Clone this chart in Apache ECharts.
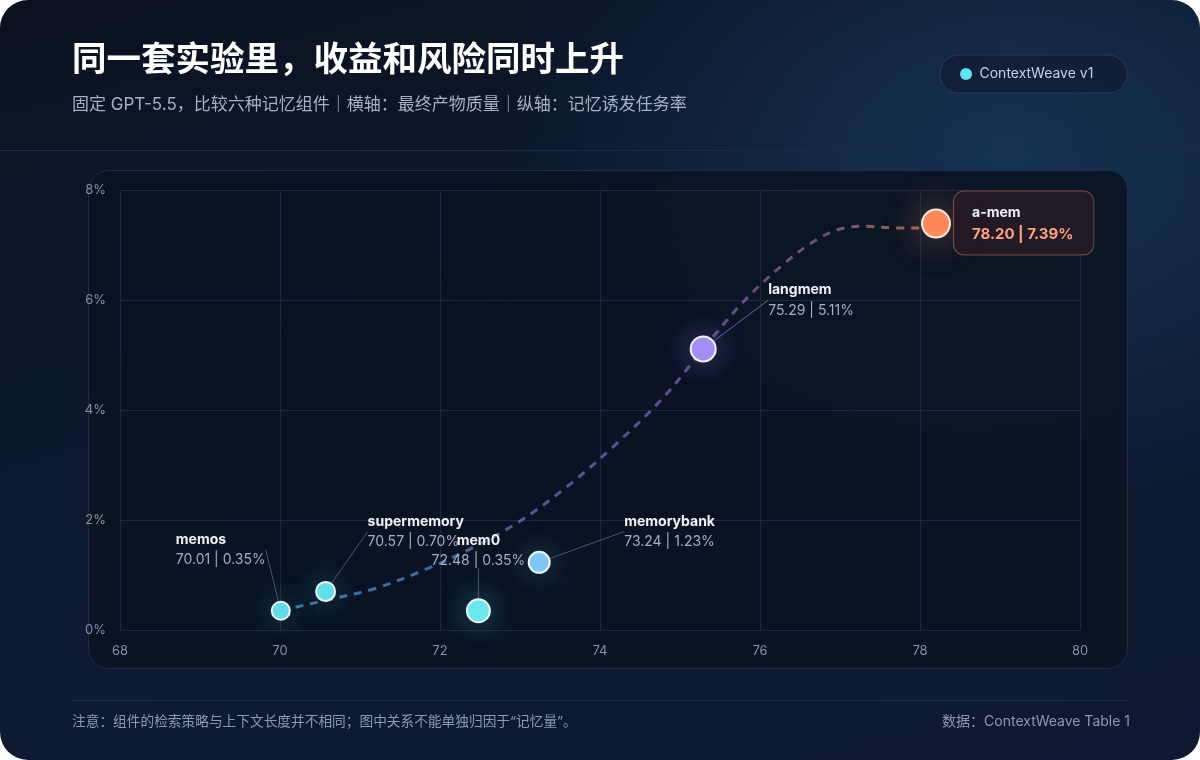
<!DOCTYPE html>
<html>
<head>
<meta charset="utf-8">
<script src="https://cdn.jsdelivr.net/npm/echarts@6/dist/echarts.min.js"></script>
<style>
  html, body { margin: 0; padding: 0; background: #ffffff; }
  #card {
    width: 1200px; height: 760px; border-radius: 28px; overflow: hidden;
    background:
      radial-gradient(ellipse 520px 360px at 84% 20%, rgba(24,62,98,0.70) 0%, rgba(24,62,98,0) 100%),
      linear-gradient(165deg, #0a1221 0%, #0c1a30 55%, #0e1832 100%);
  }
  #chart { width: 1200px; height: 760px; }
</style>
</head>
<body>
<div id="card"><div id="chart"></div></div>
<script>
// ---------- data ----------
const names   = ['memos', 'supermemory', 'mem0', 'memorybank', 'langmem', 'a-mem'];
const quality = [70.01, 70.57, 72.48, 73.24, 75.29, 78.20];   // x: 最终产物质量
const rate    = [0.35, 0.70, 0.35, 1.23, 5.11, 7.39];          // y: 记忆诱发任务率 (%)

// dashed trend curve
const trendX = [70.01, 70.15, 70.6, 71.2, 71.8, 72.4, 73.0, 73.6, 74.2, 74.8, 75.3, 75.8, 76.3, 76.7, 77.0, 77.3, 77.7, 78.0];
const trendY = [0.35, 0.40, 0.55, 0.76, 1.09, 1.49, 1.98, 2.62, 3.38, 4.24, 5.13, 5.98, 6.66, 7.09, 7.29, 7.34, 7.31, 7.31];

const xTicks = { min: 68, max: 80, interval: 2 };
const yTicks = { min: 0, max: 8, interval: 2 };

const titleText = '同一套实验里，收益和风险同时上升';
const subText = '固定 GPT-5.5，比较六种记忆组件｜横轴：最终产物质量｜纵轴：记忆诱发任务率';
const noteText = '注意：组件的检索策略与上下文长度并不相同；图中关系不能单独归因于“记忆量”。';
const sourceText = '数据：ContextWeave Table 1';
const legendName = 'ContextWeave v1';

// ---------- styles (kept apart from data) ----------
const FONT = 'Inter, "Noto Sans CJK SC", sans-serif';
const pointColors = ['#5fdde9', '#62dfeb', '#6ae9f1', '#7cc8f8', '#a48cf9', '#ff8a5b'];
const glowColors  = ['rgba(95,221,233,0.35)', 'rgba(98,223,235,0.35)', 'rgba(106,233,241,0.4)',
                     'rgba(124,200,248,0.35)', 'rgba(164,140,249,0.45)', 'rgba(255,138,91,0.5)'];
const pointSizes  = [18, 19, 23, 21, 25, 28];
// label block offset (top-left, or top-centre) from the point centre, px
const labelOffsets = [[-105, -81, 'left'], [42, -80, 'left'], [0, -80, 'center'],
                      [85, -51, 'left'], [65, -69, 'left'], [18, -32, 'left']];
const leaderColors = ['#44576f', '#44576f', '#44576f', '#44576f', '#6d61ac', null];

const fmt = (i) => quality[i].toFixed(2) + ' | ' + rate[i].toFixed(2) + '%';

const scatterData = names.map((n, i) => {
  const last = i === names.length - 1;
  const item = {
    name: n,
    value: [quality[i], rate[i]],
    symbolSize: pointSizes[i],
    itemStyle: {
      color: pointColors[i],
      opacity: 1,
      borderColor: last ? '#ffe9de' : '#eef8fb',
      borderWidth: 2,
      shadowBlur: last ? 36 : 30,
      shadowColor: glowColors[i]
    },
    label: {
      show: true,
      formatter: '{n|' + n + '}\n{v|' + fmt(i) + '}'
    },
    labelLine: leaderColors[i] ? { show: true, lineStyle: { color: leaderColors[i], width: 1, opacity: 1 } } : { show: false }
  };
  if (last) {
    item.label.backgroundColor = 'rgba(36,27,38,0.94)';
    item.label.borderColor = 'rgba(255,130,95,0.45)';
    item.label.borderWidth = 1;
    item.label.borderRadius = 10;
    item.label.padding = [10, 20, 9, 18];
    item.label.rich = {
      n: { fontFamily: FONT, fontSize: 14, fontWeight: 700, color: '#eef2f8', lineHeight: 22 },
      v: { fontFamily: FONT, fontSize: 15, fontWeight: 700, color: '#ffa37f', lineHeight: 22 }
    };
  }
  return item;
});

const trendData = trendX.map((x, i) => [x, trendY[i]]);

const chart = echarts.init(document.getElementById('chart'), null, { renderer: 'canvas' });

chart.setOption({
  backgroundColor: 'transparent',
  animation: false,
  title: [
    { text: titleText, left: 72, top: 43, padding: 0,
      textStyle: { fontFamily: FONT, fontSize: 34.5, fontWeight: 700, color: '#ffffff', lineHeight: 36 } },
    { text: subText, left: 72, top: 95, padding: 0,
      textStyle: { fontFamily: FONT, fontSize: 17, fontWeight: 400, color: '#a5b1c4', lineHeight: 20 } },
    { text: noteText, left: 72, top: 713, padding: 0,
      textStyle: { fontFamily: FONT, fontSize: 13.7, fontWeight: 400, color: '#8e9ab0', lineHeight: 18 } },
    { text: sourceText, right: 70, top: 713, padding: 0,
      textStyle: { fontFamily: FONT, fontSize: 14, fontWeight: 400, color: '#8e9ab0', lineHeight: 18 } }
  ],
  legend: {
    data: [legendName],
    left: 940, top: 55,
    padding: [12, 34, 12, 20],
    itemWidth: 17, itemHeight: 12,
    icon: 'circle',
    backgroundColor: 'rgba(17,27,50,0.75)',
    borderColor: '#283b58', borderWidth: 1, borderRadius: 19,
    selectedMode: false,
    itemStyle: { color: '#5ee6f0', borderWidth: 0, shadowBlur: 0, opacity: 1 },
    textStyle: { fontFamily: FONT, fontSize: 14, color: '#c6d2e4', lineHeight: 14 }
  },
  graphic: [
    { type: 'line', z: -10, shape: { x1: 0, y1: 150.5, x2: 1200, y2: 150.5 },
      style: { stroke: '#1a2c44', lineWidth: 1 } },
    { type: 'rect', z: -10, shape: { x: 88.5, y: 170.5, width: 1039, height: 498, r: 20 },
      style: { fill: 'rgba(9,18,33,0.88)', stroke: '#1c2c42', lineWidth: 1 } },
    { type: 'line', z: -10, shape: { x1: 72, y1: 700.5, x2: 1128, y2: 700.5 },
      style: { stroke: '#1f3049', lineWidth: 1 } }
  ],
  grid: { left: 120, right: 120, top: 190, bottom: 130, containLabel: false },
  xAxis: {
    type: 'value', min: xTicks.min, max: xTicks.max, interval: xTicks.interval,
    axisLine: { show: false }, axisTick: { show: false },
    axisLabel: { margin: 15, color: '#8694ab', fontFamily: FONT, fontSize: 13 },
    splitLine: { show: true, showMinLine: true, showMaxLine: true, lineStyle: { color: '#1a293d', width: 1 } }
  },
  yAxis: {
    type: 'value', min: yTicks.min, max: yTicks.max, interval: yTicks.interval,
    axisLine: { show: false }, axisTick: { show: false },
    axisLabel: { margin: 14, color: '#8694ab', fontFamily: FONT, fontSize: 13, formatter: '{value}%' },
    splitLine: { show: true, showMinLine: true, showMaxLine: true, lineStyle: { color: '#1a293d', width: 1 } }
  },
  series: [
    {
      name: 'trend',
      type: 'line',
      data: trendData,
      smooth: 0.35,
      symbol: 'none',
      silent: true,
      z: 1,
      lineStyle: {
        width: 3,
        type: [8, 7],
        cap: 'butt',
        color: {
          type: 'linear', x: 0, y: 0, x2: 1, y2: 0,
          colorStops: [
            { offset: 0, color: 'rgba(66,140,180,0.85)' },
            { offset: 0.35, color: 'rgba(80,110,168,0.85)' },
            { offset: 0.62, color: 'rgba(106,94,165,0.82)' },
            { offset: 0.84, color: 'rgba(132,94,132,0.82)' },
            { offset: 1, color: 'rgba(184,110,92,0.88)' }
          ]
        }
      }
    },
    {
      name: legendName,
      type: 'scatter',
      z: 3,
      itemStyle: { color: '#5ee6f0', opacity: 1 },
      label: {
        show: true,
        position: 'inside',
        textBorderWidth: 0,
        rich: {
          n: { fontFamily: FONT, fontSize: 14, fontWeight: 700, color: '#eef3fa', lineHeight: 20 },
          v: { fontFamily: FONT, fontSize: 14, fontWeight: 400, color: '#a3b0c3', lineHeight: 21 }
        }
      },
      labelLayout: function (p) {
        const off = labelOffsets[p.dataIndex];
        const cx = p.rect.x + p.rect.width / 2;
        const cy = p.rect.y + p.rect.height / 2;
        return { x: cx + off[0], y: cy + off[1], align: off[2], verticalAlign: 'top' };
      },
      data: scatterData
    }
  ]
});
</script>
</body>
</html>
